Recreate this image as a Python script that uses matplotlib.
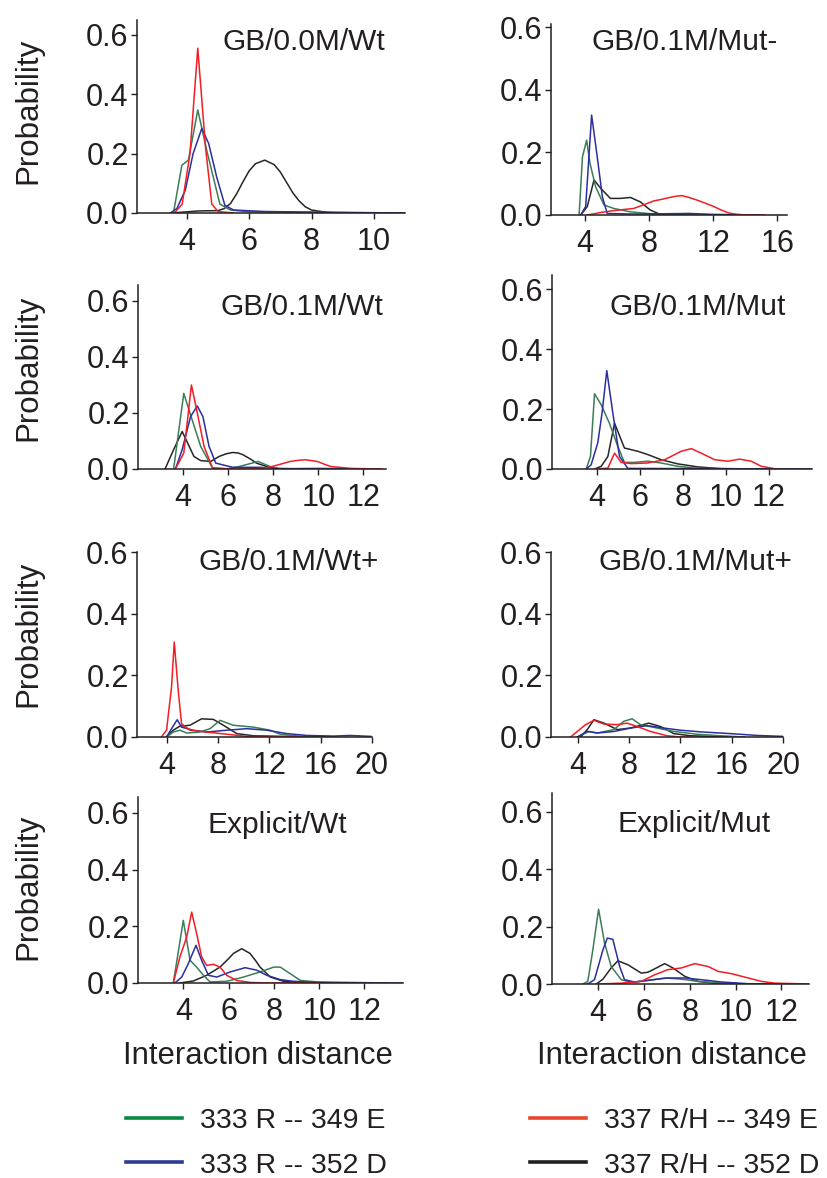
import matplotlib
matplotlib.use('Agg')
import matplotlib.pyplot as plt

# ---------------- data ----------------
panel_titles = ["GB/0.0M/Wt", "GB/0.1M/Mut-", "GB/0.1M/Wt", "GB/0.1M/Mut",
                "GB/0.1M/Wt+", "GB/0.1M/Mut+", "Explicit/Wt", "Explicit/Mut"]
series_labels = ["333 R -- 349 E", "333 R -- 352 D", "337 R/H -- 349 E", "337 R/H -- 352 D"]
y_ticks = [0.0, 0.2, 0.4, 0.6]
x_ticks_p1 = [4, 6, 8, 10]
x_ticks_p2 = [4, 8, 12, 16]
x_ticks_p3 = [4, 6, 8, 10, 12]
x_ticks_p4 = [4, 6, 8, 10, 12]
x_ticks_p5 = [4, 8, 12, 16, 20]
x_ticks_p6 = [4, 8, 12, 16, 20]
x_ticks_p7 = [4, 6, 8, 10, 12]
x_ticks_p8 = [4, 6, 8, 10, 12]

# Panel 1: GB/0.0M/Wt
p1_green_x = [3.5, 3.57, 3.84, 4.05, 4.35, 4.64, 5.06, 5.4, 6.0, 8.0, 11.0]
p1_green_y = [0, 0, 0.161, 0.178, 0.347, 0.21, 0.03, 0.01, 0.004, 0.002, 0.0]
p1_blue_x = [3.47, 3.68, 3.95, 4.2, 4.48, 4.7, 4.96, 5.22, 5.5, 6.5, 8.0, 11.0]
p1_blue_y = [0, 0.015, 0.077, 0.2, 0.285, 0.234, 0.12, 0.026, 0.01, 0.005, 0.003, 0.0]
p1_red_x = [3.6, 3.85, 4.1, 4.35, 4.6, 4.8, 5.0, 5.5]
p1_red_y = [0, 0.03, 0.2, 0.555, 0.22, 0.03, 0.005, 0]
p1_black_x = [3.5, 4.4, 5.0, 5.2, 5.4, 5.6, 5.8, 6.0, 6.2, 6.5, 6.8, 7.0, 7.2, 7.4, 7.6, 7.8, 8.0, 8.5, 9.0, 9.7]
p1_black_y = [0, 0.007, 0.008, 0.015, 0.032, 0.065, 0.105, 0.142, 0.166, 0.178, 0.163, 0.138, 0.103, 0.068, 0.041, 0.021, 0.01, 0.002, 0.0, 0.0]

# Panel 2: GB/0.1M/Mut-
p2_green_x = [3.65, 3.86, 4.12, 4.33, 4.68, 5.2, 5.8, 6.85, 7.9, 9.0, 12.0]
p2_green_y = [0, 0.186, 0.239, 0.165, 0.09, 0.032, 0.021, 0.01, 0.005, 0.001, 0]
p2_blue_x = [3.75, 4.06, 4.43, 4.78, 5.1, 5.4, 7.0, 9.0, 10.5, 12.0, 15.2]
p2_blue_y = [0, 0.027, 0.319, 0.186, 0.058, 0.005, 0.003, 0.004, 0.005, 0.002, 0]
p2_red_x = [4.16, 5.0, 5.8, 7.05, 7.7, 8.3, 8.8, 9.3, 9.7, 10.04, 10.5, 10.97, 11.5, 12.0, 12.5, 13.0, 13.5, 14.06, 15.2]
p2_red_y = [0, 0.008, 0.014, 0.021, 0.033, 0.045, 0.05, 0.056, 0.06, 0.062, 0.056, 0.048, 0.038, 0.028, 0.016, 0.006, 0.002, 0, 0]
p2_black_x = [3.75, 4.16, 4.58, 5.0, 5.6, 6.23, 6.85, 7.46, 8.08, 8.7, 10.0]
p2_black_y = [0, 0.027, 0.112, 0.085, 0.053, 0.053, 0.056, 0.042, 0.016, 0.002, 0]

# Panel 3: GB/0.1M/Wt
p3_green_x = [3.58, 4.03, 4.4, 4.78, 5.3, 5.9, 6.5, 7.33, 7.85, 8.3, 11.0]
p3_green_y = [0, 0.27, 0.176, 0.081, 0.004, 0.0, 0.009, 0.027, 0.009, 0.0, 0]
p3_blue_x = [3.66, 3.96, 4.33, 4.63, 4.88, 5.15, 5.45, 6.2, 7.4, 8.3, 10.0, 12.7]
p3_blue_y = [0, 0.069, 0.187, 0.225, 0.187, 0.081, 0.021, 0.006, 0.006, 0.001, 0.002, 0.0]
p3_red_x = [3.66, 4.03, 4.37, 4.63, 4.93, 5.3, 6.2, 7.4, 8.0, 8.4, 8.75, 9.1, 9.42, 9.95, 10.3, 10.55, 11.45, 12.8]
p3_red_y = [0, 0.057, 0.3, 0.2, 0.081, 0.004, 0, 0, 0.01, 0.019, 0.027, 0.031, 0.033, 0.027, 0.016, 0.009, 0.002, 0]
p3_black_x = [3.2, 3.58, 3.96, 4.48, 4.78, 5.23, 5.6, 5.9, 6.2, 6.45, 6.65, 7.0, 7.25, 7.7, 8.15, 9.5]
p3_black_y = [0, 0.069, 0.134, 0.045, 0.03, 0.027, 0.045, 0.054, 0.059, 0.057, 0.051, 0.035, 0.021, 0.009, 0.002, 0]

# Panel 4: GB/0.1M/Mut
p4_green_x = [3.49, 3.69, 3.88, 4.19, 4.57, 4.96, 5.27, 5.74, 6.36, 6.98, 7.76, 8.69, 12.0]
p4_green_y = [0, 0.042, 0.251, 0.214, 0.153, 0.076, 0.022, 0.022, 0.026, 0.02, 0.009, 0.002, 0]
p4_blue_x = [3.49, 3.72, 4.03, 4.23, 4.45, 4.73, 5.04, 5.43, 14.0]
p4_blue_y = [0, 0.014, 0.087, 0.187, 0.328, 0.187, 0.042, 0.002, 0]
p4_red_x = [3.95, 4.5, 4.81, 5.12, 5.58, 6.36, 7.14, 7.91, 8.38, 8.84, 9.47, 10.09, 10.63, 11.17, 11.64, 12.26, 12.5]
p4_red_y = [0, 0.003, 0.053, 0.022, 0.018, 0.02, 0.031, 0.059, 0.068, 0.053, 0.031, 0.026, 0.033, 0.026, 0.009, 0.001, 0]
p4_black_x = [3.88, 4.19, 4.5, 4.81, 5.27, 5.9, 6.36, 6.98, 7.76, 8.69, 9.78, 12.0]
p4_black_y = [0, 0.009, 0.042, 0.153, 0.07, 0.059, 0.048, 0.031, 0.017, 0.007, 0.001, 0]

# Panel 5: GB/0.1M/Wt+
p5_green_x = [4.0, 4.52, 5.04, 5.56, 6.6, 7.39, 8.17, 9.2, 10.77, 12.07, 12.85, 14.4, 17.0]
p5_green_y = [0, 0.016, 0.022, 0.013, 0.016, 0.027, 0.054, 0.038, 0.032, 0.022, 0.009, 0.002, 0]
p5_blue_x = [4.0, 4.39, 4.83, 5.17, 6.08, 7.12, 8.69, 10.25, 11.81, 13.38, 14.94, 17.0, 18.3, 19.9]
p5_blue_y = [0, 0.027, 0.056, 0.032, 0.022, 0.016, 0.022, 0.027, 0.022, 0.011, 0.005, 0.003, 0.005, 0.002]
p5_red_x = [3.6, 4.0, 4.39, 4.6, 4.91, 5.17, 5.82, 7.12, 8.69, 10.25, 14.5]
p5_red_y = [0, 0.022, 0.162, 0.308, 0.151, 0.043, 0.022, 0.016, 0.009, 0.002, 0]
p5_black_x = [4.0, 4.52, 5.04, 5.82, 6.73, 7.65, 8.43, 9.47, 10.77, 13.1, 17.0]
p5_black_y = [0, 0.022, 0.035, 0.038, 0.059, 0.057, 0.038, 0.011, 0.004, 0.002, 0]

# Panel 6: GB/0.1M/Mut+
p6_green_x = [3.95, 4.86, 5.51, 6.81, 7.58, 8.23, 8.88, 10.18, 11.48, 13.3, 15.1, 17.0]
p6_green_y = [0, 0.018, 0.013, 0.024, 0.051, 0.059, 0.04, 0.029, 0.018, 0.009, 0.004, 0]
p6_blue_x = [3.95, 4.73, 5.51, 6.81, 8.1, 9.4, 10.7, 12.0, 13.8, 15.9, 18.0, 20.0]
p6_blue_y = [0, 0.018, 0.013, 0.018, 0.029, 0.037, 0.029, 0.022, 0.016, 0.011, 0.005, 0.002]
p6_red_x = [3.43, 3.95, 4.6, 5.25, 6.03, 7.06, 7.84, 8.62, 9.66, 10.96, 12.0, 13.0]
p6_red_y = [0, 0.018, 0.04, 0.054, 0.042, 0.04, 0.045, 0.034, 0.018, 0.004, 0, 0]
p6_black_x = [4.21, 4.73, 5.25, 6.03, 7.06, 8.1, 9.53, 10.44, 11.48, 12.78, 14.6, 17.0]
p6_black_y = [0, 0.024, 0.056, 0.045, 0.024, 0.029, 0.045, 0.034, 0.011, 0.004, 0.002, 0]

# Panel 7: Explicit/Wt
p7_green_x = [3.56, 4.0, 4.3, 4.59, 4.89, 5.18, 5.92, 6.66, 7.39, 7.99, 8.28, 8.72, 9.17, 9.9, 13.0]
p7_green_y = [0, 0.221, 0.08, 0.056, 0.027, 0.004, 0.006, 0.021, 0.039, 0.056, 0.056, 0.033, 0.009, 0.004, 0]
p7_blue_x = [3.63, 3.93, 4.22, 4.56, 4.81, 5.11, 5.48, 6.07, 6.73, 7.25, 7.69, 8.28, 8.87, 9.9, 10.64, 13.7]
p7_blue_y = [0, 0.021, 0.068, 0.133, 0.08, 0.027, 0.021, 0.039, 0.054, 0.045, 0.027, 0.012, 0.006, 0.002, 0, 0]
p7_red_x = [3.56, 3.85, 4.15, 4.37, 4.59, 4.81, 5.03, 5.33, 5.62, 5.92, 6.36, 6.95, 7.7, 10.0]
p7_red_y = [0, 0.092, 0.162, 0.25, 0.174, 0.092, 0.062, 0.066, 0.056, 0.027, 0.009, 0.002, 0, 0]
p7_black_x = [3.85, 4.44, 5.03, 5.62, 6.0, 6.21, 6.58, 6.95, 7.2, 7.39, 7.84, 8.43, 9.17, 10.0]
p7_black_y = [0, 0.007, 0.027, 0.056, 0.086, 0.104, 0.121, 0.104, 0.078, 0.056, 0.021, 0.006, 0.001, 0]

# Panel 8: Explicit/Mut
p8_green_x = [3.35, 3.56, 3.78, 4.03, 4.29, 4.58, 5.02, 5.45, 6.18, 6.91, 7.64, 8.36, 9.38, 10.55, 11.0]
p8_green_y = [0, 0.009, 0.119, 0.261, 0.143, 0.061, 0.015, 0.006, 0.012, 0.021, 0.017, 0.009, 0.003, 0, 0]
p8_blue_x = [3.56, 3.85, 4.22, 4.41, 4.65, 4.95, 5.16, 5.6, 6.18, 7.05, 7.78, 8.51, 9.38, 10.55, 13.0]
p8_blue_y = [0, 0.015, 0.119, 0.16, 0.156, 0.061, 0.015, 0.007, 0.013, 0.021, 0.021, 0.015, 0.007, 0.001, 0]
p8_red_x = [4.0, 5.02, 5.89, 6.47, 7.05, 7.64, 8.22, 8.8, 9.24, 9.82, 10.55, 11.13, 11.71, 13.2]
p8_red_y = [0, 0.003, 0.009, 0.032, 0.05, 0.056, 0.071, 0.061, 0.044, 0.036, 0.021, 0.009, 0.003, 0]
p8_black_x = [3.93, 4.22, 4.58, 4.87, 5.31, 5.89, 6.18, 6.55, 6.91, 7.27, 7.78, 8.36, 9.09, 9.82, 11.0]
p8_black_y = [0, 0.017, 0.056, 0.081, 0.067, 0.038, 0.041, 0.056, 0.071, 0.056, 0.027, 0.009, 0.003, 0, 0]

# ---------------- styling / layout ----------------
W, H = 827, 1178
FONT = 'Liberation Sans'
plt.rcParams['font.family'] = [FONT, 'DejaVu Sans']

line_colors = {'green': '#3b7d57', 'blue': '#2b2f9e', 'red': '#f21d25', 'black': '#262626'}
legend_colors = ['#0b8a46', '#2e3a94', '#e8452e', '#231f20']

fig = plt.figure(figsize=(W / 100, H / 100), dpi=100)

# pixel boxes: left, right, y-zero pixel, top pixel, ylim top, xlim
boxes = [
    (137, 405, 213, 20, 0.65, (2.4, 11.0)),
    (551, 787, 215, 24, 0.61, (1.9, 16.6)),
    (138, 386, 469, 285, 0.657, (2.0, 13.0)),
    (552, 812, 469, 275, 0.647, (1.9, 14.0)),
    (137, 372, 737, 552, 0.60, (1.7, 20.0)),
    (551, 783, 737, 552, 0.60, (1.9, 20.0)),
    (138, 403, 983, 797, 0.656, (2.0, 13.7)),
    (552, 809, 984, 793, 0.666, (2.0, 13.2)),
]
title_pos = [(304, 50), (685, 50), (302, 315), (698, 315),
             (289, 570), (695, 570), (277, 833), (694, 832)]

panels = [
    (p1_green_x, p1_green_y, p1_blue_x, p1_blue_y, p1_red_x, p1_red_y, p1_black_x, p1_black_y, x_ticks_p1),
    (p2_green_x, p2_green_y, p2_blue_x, p2_blue_y, p2_red_x, p2_red_y, p2_black_x, p2_black_y, x_ticks_p2),
    (p3_green_x, p3_green_y, p3_blue_x, p3_blue_y, p3_red_x, p3_red_y, p3_black_x, p3_black_y, x_ticks_p3),
    (p4_green_x, p4_green_y, p4_blue_x, p4_blue_y, p4_red_x, p4_red_y, p4_black_x, p4_black_y, x_ticks_p4),
    (p5_green_x, p5_green_y, p5_blue_x, p5_blue_y, p5_red_x, p5_red_y, p5_black_x, p5_black_y, x_ticks_p5),
    (p6_green_x, p6_green_y, p6_blue_x, p6_blue_y, p6_red_x, p6_red_y, p6_black_x, p6_black_y, x_ticks_p6),
    (p7_green_x, p7_green_y, p7_blue_x, p7_blue_y, p7_red_x, p7_red_y, p7_black_x, p7_black_y, x_ticks_p7),
    (p8_green_x, p8_green_y, p8_blue_x, p8_blue_y, p8_red_x, p8_red_y, p8_black_x, p8_black_y, x_ticks_p8),
]

for i, (box, pdata) in enumerate(zip(boxes, panels)):
    L, R, B, T, ytop, xlim = box
    ax = fig.add_axes([L / W, 1 - B / H, (R - L) / W, (B - T) / H])
    gx, gy, bx, by, rx, ry, kx, ky, xt = pdata
    ax.plot(kx, ky, color=line_colors['black'], lw=1.1)
    ax.plot(gx, gy, color=line_colors['green'], lw=1.1)
    ax.plot(bx, by, color=line_colors['blue'], lw=1.1)
    ax.plot(rx, ry, color=line_colors['red'], lw=1.1)
    ax.set_xlim(*xlim)
    ax.set_ylim(0, ytop)
    ax.set_xticks(xt)
    ax.set_xticklabels([str(v) for v in xt])
    ax.set_yticks(y_ticks)
    ax.set_yticklabels([f"{v:.1f}" for v in y_ticks])
    for s in ('top', 'right'):
        ax.spines[s].set_visible(False)
    for s in ('left', 'bottom'):
        ax.spines[s].set_linewidth(1.1)
        ax.spines[s].set_color('#231f20')
    ax.tick_params(axis='both', direction='out', length=4, width=1.0,
                   color='#231f20', labelsize=22, labelcolor='#231f20')
    ax.tick_params(axis='y', pad=2)
    ax.tick_params(axis='x', pad=6)
    ax.patch.set_alpha(0)
    tx, ty = title_pos[i]
    fig.text(tx / W, 1 - ty / H, panel_titles[i], ha='center', va='baseline',
             fontsize=21.5, color='#231f20')

# Probability labels
for yc in (111, 368, 634, 887):
    fig.text(28 / W, 1 - yc / H, "Probability", rotation=90, ha='center', va='center',
             fontsize=22.5, color='#231f20')

# Interaction distance labels
for xc in (258, 672):
    fig.text(xc / W, 1 - 1064 / H, "Interaction distance", ha='center', va='baseline',
             fontsize=22.3, color='#231f20')

# Legend (manual, figure coordinates)
leg_rows = [(126, 182, 200, 1118, 1128), (126, 182, 200, 1162, 1173),
            (530, 586, 604, 1118, 1128), (530, 586, 604, 1162, 1173)]
for (x0, x1, xt_, yl, yb), lab, col in zip(leg_rows, series_labels, legend_colors):
    fig.add_artist(plt.Line2D([x0 / W, x1 / W], [1 - yl / H, 1 - yl / H],
                              color=col, lw=2.6, transform=fig.transFigure))
    fig.text(xt_ / W, 1 - yb / H, lab, ha='left', va='baseline', fontsize=20.5,
             color='#231f20')

fig.savefig('out.png', dpi=100)
